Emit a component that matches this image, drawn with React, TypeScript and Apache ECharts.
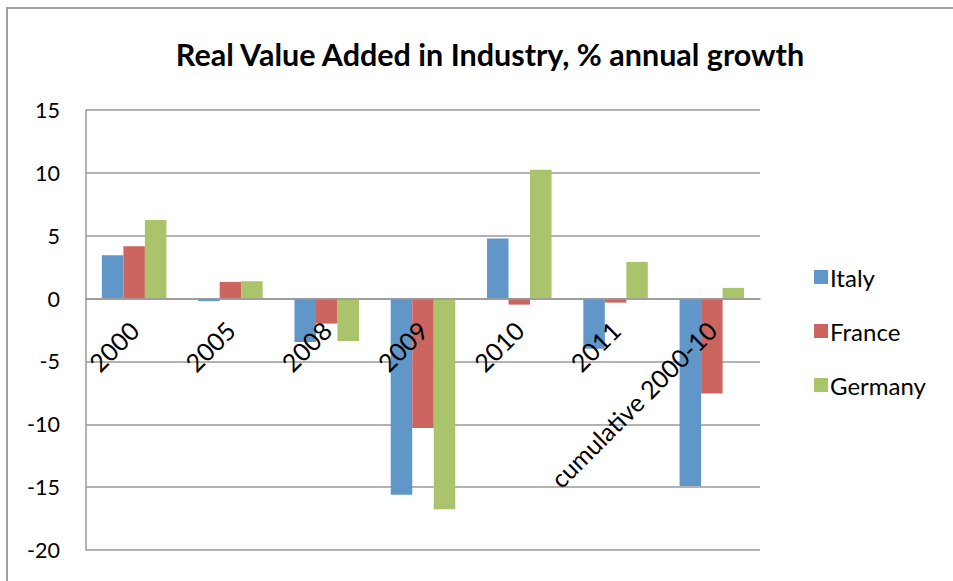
import React, { useEffect, useRef } from "react";
import * as echarts from "echarts";

const categories = ["2000", "2005", "2008", "2009", "2010", "2011", "cumulative 2000-10"];
const italy = [3.45, -0.2, -3.45, -15.6, 4.77, -4.0, -14.9];
const france = [4.17, 1.33, -1.99, -10.3, -0.48, -0.32, -7.55];
const germany = [6.25, 1.38, -3.37, -16.75, 10.25, 2.92, 0.85];
const yTicks = { min: -20, max: 15, interval: 5 };
const FONT = "Lato";

export default function App() {
  const ref = useRef<HTMLDivElement>(null);
  useEffect(() => {
    if (!ref.current) return;
    const chart = echarts.init(ref.current, null, { renderer: "svg" });
    const barStyle = (c: string) => ({ color: c });
    const gridTop = 110;
    const gridBottom = 31;
    const plotH = 581 - gridTop - gridBottom;
    const zeroOffset = -(plotH * (0 - yTicks.min)) / (yTicks.max - yTicks.min);
    chart.setOption({
      animation: false,
      backgroundColor: "#ffffff",
      title: {
        text: "Real Value Added in Industry, % annual growth",
        left: 485,
        textAlign: "center",
        top: 33,
        textStyle: { fontFamily: FONT, fontWeight: "bold", fontSize: 30.5, color: "#000" },
      },
      graphic: [
        {
          type: "rect",
          shape: { x: 7, y: 8, width: 1100, height: 1100 },
          style: { fill: "none", stroke: "#a0a0a0", lineWidth: 2 },
          silent: true,
        },
      ],
      legend: {
        orient: "vertical",
        left: 809,
        top: 260,
        itemWidth: 14,
        itemHeight: 14,
        itemGap: 30,
        icon: "rect",
        textStyle: { fontFamily: FONT, fontSize: 24, color: "#000", padding: [0, 0, 0, -3] },
        data: ["Italy", "France", "Germany"],
      },
      grid: { left: 86, right: 193, top: gridTop, bottom: gridBottom, containLabel: false, outerBoundsMode: "none" },
      xAxis: {
        type: "category",
        data: categories,
        position: "bottom",
        offset: zeroOffset,
        axisLine: { onZero: false, lineStyle: { color: "#999", width: 1.5 } },
        axisTick: { show: false },
        axisLabel: {
          rotate: 45,
          interval: 0,
          margin: 27,
          fontFamily: FONT,
          fontSize: 25,
          color: "#000",
        },
        z: 5,
      },
      yAxis: {
        type: "value",
        min: yTicks.min,
        max: yTicks.max,
        interval: yTicks.interval,
        axisLine: { show: true, lineStyle: { color: "#999", width: 1.5 } },
        axisTick: { show: false },
        axisLabel: { fontFamily: FONT, fontSize: 21.5, color: "#000", margin: 26 },
        splitLine: { show: true, lineStyle: { color: "#999", width: 1.5 } },
      },
      series: [
        { name: "Italy", type: "bar", data: italy, itemStyle: barStyle("#6096c8"), barGap: "0%", barCategoryGap: "33%" },
        { name: "France", type: "bar", data: france, itemStyle: barStyle("#cc6560"), barGap: "0%", barCategoryGap: "33%" },
        { name: "Germany", type: "bar", data: germany, itemStyle: barStyle("#aac46c"), barGap: "0%", barCategoryGap: "33%" },
      ],
    });
    return () => chart.dispose();
  }, []);
  return (
    <div
      ref={ref}
      style={{ position: "fixed", left: 0, top: 0, width: 953, height: 581 }}
    />
  );
}
